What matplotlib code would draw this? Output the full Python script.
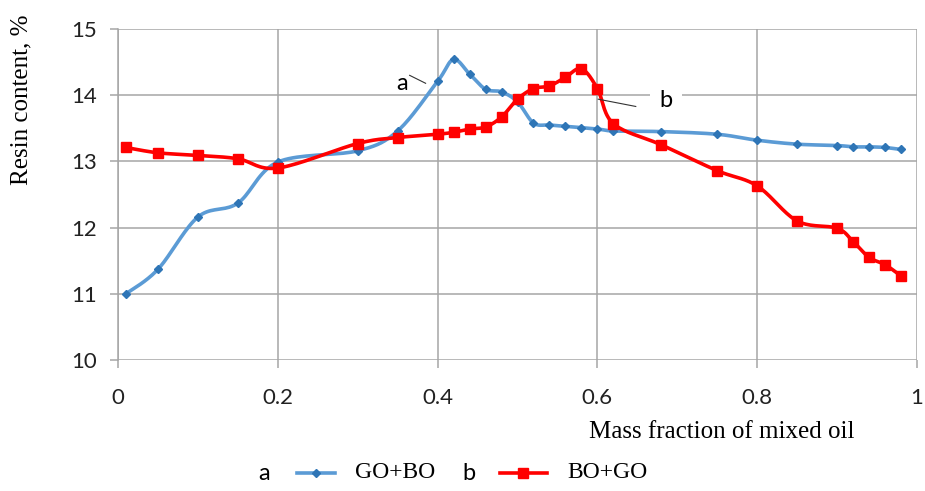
import numpy as np
import matplotlib
matplotlib.use("Agg")
import matplotlib.pyplot as plt
from matplotlib.lines import Line2D

# mass fraction of mixed oil
x = [0.01, 0.05, 0.10, 0.15, 0.20, 0.30, 0.35, 0.40, 0.42, 0.44, 0.46, 0.48, 0.50,
     0.52, 0.54, 0.56, 0.58, 0.60, 0.62, 0.68, 0.75, 0.80, 0.85, 0.90, 0.92, 0.94,
     0.96, 0.98]

# resin content, %
go_bo = [11.00, 11.37, 12.16, 12.37, 12.99, 13.16, 13.46, 14.21, 14.54, 14.32, 14.09,
         14.05, 13.90, 13.58, 13.55, 13.53, 13.51, 13.49, 13.46, 13.45, 13.41, 13.32,
         13.26, 13.24, 13.22, 13.22, 13.21, 13.18]
bo_go = [13.21, 13.13, 13.09, 13.04, 12.90, 13.27, 13.36, 13.41, 13.44, 13.49, 13.52,
         13.67, 13.94, 14.10, 14.14, 14.27, 14.40, 14.10, 13.57, 13.25, 12.86, 12.63,
         12.10, 11.99, 11.79, 11.55, 11.44, 11.27]

x_ticks = [0, 0.2, 0.4, 0.6, 0.8, 1]
x_tick_labels = ["0", "0.2", "0.4", "0.6", "0.8", "1"]
y_ticks = [10, 11, 12, 13, 14, 15]

blue = "#5b9bd5"
blue_dark = "#2e75b6"
red = "#ff0000"
grid = "#a6a6a6"
sans = ["Lato", "DejaVu Sans"]
serif = ["Liberation Serif", "DejaVu Serif"]


def smooth(xs, ys, n=20):
    # excel-like smoothed line: bezier segments through every point
    xs = np.asarray(xs, float)
    ys = np.asarray(ys, float)
    px = np.concatenate([[xs[0]], xs, [xs[-1]]])
    py = np.concatenate([[ys[0]], ys, [ys[-1]]])
    out_x, out_y = [], []
    t = np.linspace(0, 1, n)
    for i in range(1, len(px) - 2):
        p0 = np.array([px[i], py[i]])
        p3 = np.array([px[i + 1], py[i + 1]])
        p1 = p0 + (np.array([px[i + 1], py[i + 1]]) - np.array([px[i - 1], py[i - 1]])) / 6
        p2 = p3 - (np.array([px[i + 2], py[i + 2]]) - np.array([px[i], py[i]])) / 6
        b = (((1 - t) ** 3)[:, None] * p0 + (3 * (1 - t) ** 2 * t)[:, None] * p1
             + (3 * (1 - t) * t ** 2)[:, None] * p2 + (t ** 3)[:, None] * p3)
        out_x.extend(b[:, 0])
        out_y.extend(b[:, 1])
    return out_x, out_y


fig = plt.figure(figsize=(9.25, 4.91), dpi=100)
ax = fig.add_axes([118 / 925, 1 - 360 / 491, (917 - 118) / 925, (360 - 29) / 491])

sx, sy = smooth(x, go_bo)
ax.plot(sx, sy, color=blue, lw=2.6, zorder=3, solid_capstyle="round")
ax.plot(x, go_bo, ls="none", marker="D", ms=4, color=blue_dark, zorder=4)

sx, sy = smooth(x, bo_go)
ax.plot(sx, sy, color=red, lw=2.6, zorder=5, solid_capstyle="round")
ax.plot(x, bo_go, ls="none", marker="s", ms=6.5, color=red, zorder=6)

ax.set_xlim(0, 1)
ax.set_ylim(10, 15)
ax.set_xticks(x_ticks)
ax.set_xticklabels(x_tick_labels)
ax.set_yticks(y_ticks)
ax.grid(True, color=grid, lw=1.1)
ax.set_axisbelow(True)
for s in ax.spines.values():
    s.set_visible(False)
ax.spines["left"].set_visible(True)
ax.spines["left"].set_color(grid)
ax.spines["left"].set_linewidth(1.1)
ax.tick_params(length=6, width=1.1, color=grid, labelsize=16)
ax.tick_params(axis="x", pad=14)
ax.tick_params(axis="y", pad=9)
for lab in ax.get_xticklabels() + ax.get_yticklabels():
    lab.set_family(sans)
    lab.set_color("#222222")

fig.text(21 / 925, 1 - 100 / 491, "Resin content, %", rotation=90, ha="center",
         va="center", fontsize=18, family=serif)
fig.text(722 / 925, 1 - 432 / 491, "Mass fraction of mixed oil", ha="center",
         va="center", fontsize=18, family=serif)

# curve labels
ax.text(0.356, 14.17, "a", fontsize=17, family=sans, ha="center", va="center")
ax.plot([0.365, 0.385], [14.30, 14.18], color="#333333", lw=0.8, zorder=7)
ax.text(0.686, 13.92, "b", fontsize=17, family=sans, ha="center", va="center",
        zorder=2, bbox=dict(facecolor="white", edgecolor="none", pad=7))
ax.plot([0.601, 0.648], [13.94, 13.83], color="#333333", lw=0.8, zorder=7)

# legend
ly = 1 - 473 / 491
fig.text(264 / 925, ly, "a", fontsize=17, family=sans, ha="center", va="center")
fig.text(469 / 925, ly, "b", fontsize=17, family=sans, ha="center", va="center")
fig.add_artist(Line2D([297 / 925, 335 / 925], [ly] * 2, color=blue, lw=2.6))
fig.add_artist(Line2D([316 / 925], [ly], marker="D", ms=4, color=blue_dark))
fig.add_artist(Line2D([500 / 925, 547 / 925], [ly] * 2, color=red, lw=2.6))
fig.add_artist(Line2D([523 / 925], [ly], marker="s", ms=6.5, color=red))
fig.text(355 / 925, ly, "GO+BO", fontsize=17, family=serif, ha="left", va="center")
fig.text(567 / 925, ly, "BO+GO", fontsize=17, family=serif, ha="left", va="center")

fig.savefig("out.png", dpi=100)
